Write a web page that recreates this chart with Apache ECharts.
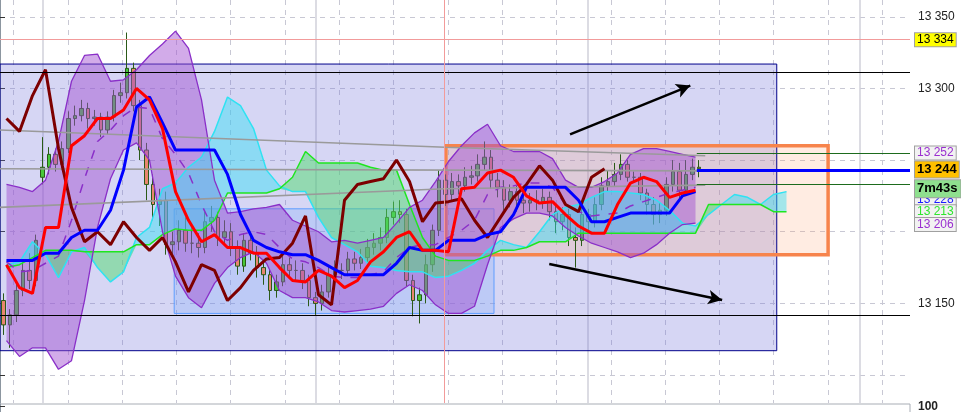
<!DOCTYPE html>
<html><head><meta charset="utf-8">
<script src="https://cdn.jsdelivr.net/npm/echarts@6/dist/echarts.min.js"></script>
<style>html,body{margin:0;padding:0;background:#fff}#c{width:961px;height:412px}</style>
</head><body><div id="c"></div>
<script>
// ---- candles (each slot = 2 bars) ----
const candleOpen = [13152,13135,13142,13159,13173,13166,13238,13245,13254,13247,
13258,13279,13281,13286,13279,13280,13271,13280,13295,13297,
13314,13288,13257,13233,13219,13222,13191,13193,13201,13192,
13192,13189,13207,13210,13196,13200,13189,13176,13194,13185,
13175,13170,13159,13165,13177,13173,13173,13166,13154,13150,
13158,13170,13173,13173,13181,13178,13182,13189,13192,13196,
13210,13214,13212,13166,13152,13156,13177,13201,13236,13226,
13235,13232,13238,13239,13247,13252,13236,13231,13222,13228,
13222,13220,13222,13221,13224,13214,13207,13212,13196,13194,
13212,13207,13219,13232,13235,13240,13247,13238,13238,13227,
13219,13212,13215,13233,13242,13229,13240,13245];
const candleClose = [13135,13142,13159,13173,13166,13194,13245,13254,13247,13258,
13279,13281,13286,13279,13280,13271,13280,13295,13297,13314,
13288,13257,13233,13219,13222,13191,13193,13201,13192,13192,
13189,13207,13210,13196,13200,13189,13176,13194,13185,13175,
13170,13159,13165,13177,13173,13173,13166,13154,13150,13158,
13170,13173,13173,13181,13178,13182,13189,13192,13196,13210,
13214,13212,13166,13152,13156,13177,13201,13236,13226,13235,
13232,13238,13239,13247,13252,13236,13231,13222,13228,13222,
13220,13222,13221,13224,13214,13207,13212,13196,13194,13212,
13207,13219,13232,13235,13240,13247,13238,13238,13227,13219,
13212,13215,13233,13242,13229,13240,13245,13244];
const candleHigh = [13157,13146,13165,13180,13185,13198,13266,13259,13258,13263,
13284,13288,13292,13290,13285,13283,13284,13299,13304,13339,
13318,13292,13262,13240,13230,13228,13200,13208,13210,13203,
13199,13214,13218,13214,13208,13206,13194,13199,13200,13190,
13180,13174,13170,13183,13182,13180,13178,13170,13158,13163,
13176,13180,13178,13186,13186,13188,13195,13199,13203,13216,
13221,13222,13216,13170,13161,13184,13205,13243,13240,13241,
13240,13245,13246,13254,13263,13257,13241,13236,13233,13232,
13228,13227,13229,13230,13228,13218,13217,13216,13203,13218,
13216,13224,13238,13243,13248,13254,13250,13242,13241,13230,
13224,13220,13238,13250,13248,13250,13251,13250];
const candleLow = [13128,13119,13137,13155,13160,13162,13233,13240,13242,13243,
13255,13274,13277,13272,13274,13266,13268,13277,13290,13293,
13284,13250,13222,13208,13204,13184,13182,13187,13186,13185,
13182,13185,13200,13190,13190,13183,13170,13172,13180,13168,
13163,13152,13154,13162,13168,13166,13160,13148,13142,13145,
13154,13166,13167,13169,13173,13174,13178,13184,13187,13192,
13205,13206,13162,13141,13136,13150,13172,13197,13218,13221,
13226,13228,13233,13235,13243,13230,13224,13215,13217,13214,
13213,13214,13215,13216,13208,13199,13201,13190,13175,13190,
13201,13203,13215,13228,13232,13236,13235,13235,13222,13212,
13205,13206,13211,13228,13222,13225,13236,13238];

// ---- indicator lines (each slot = 4 bars) ----
const tenkan = [13177,13161,13157,13203,13203,13260,13267,13279,13279,13285,
13300,13292,13272,13228,13208,13193,13198,13189,13189,13185,
13185,13175,13166,13165,13173,13169,13161,13166,13179,13186,
13196,13200,13187,13187,13186,13230,13231,13241,13243,13238,
13225,13220,13221,13212,13204,13199,13199,13219,13234,13238,
13235,13224,13227,13229];
const kijun = [13180,13180,13180,13185,13185,13196,13201,13201,13215,13243,
13287,13294,13276,13257,13257,13257,13257,13240,13212,13194,
13189,13186,13184,13184,13180,13175,13170,13170,13170,13170,
13178,13189,13187,13187,13194,13194,13194,13198,13200,13212,
13231,13231,13231,13231,13222,13207,13207,13210,13213,13213,
13213,13213,13225,13228];
const chikou = [13279,13270,13295,13313,13258,13217,13193,13200,13191,13207,
13196,13187,13196,13179,13158,13177,13173,13152,13161,13173,
13181,13182,13192,13211,13156,13149,13222,13233,13235,13237,
13250,13235,13207,13220,13221,13223,13208,13196,13210,13224,
13233,13246,13236,13219,13214,13238,13244];
const senkouA = [13177,13179,13193,13184,13168,13186,13189,13175,13165,13172,
13196,13203,13230,13234,13245,13252,13270,13294,13288,13272,
13243,13232,13228,13228,13210,13196,13191,13186,13176,13175,
13173,13172,13172,13168,13169,13173,13178,13187,13194,13191,
13189,13200,13212,13217,13219,13224,13228,13228,13227,13226,
13222,13215,13206,13204,13212,13219,13226,13224,13219,13226,
13228];
const senkouB = [13175,13177,13182,13187,13187,13187,13186,13186,13186,13186,
13191,13191,13198,13202,13201,13201,13208,13227,13227,13227,
13227,13230,13238,13256,13248,13248,13248,13248,13245,13243,
13243,13219,13196,13183,13180,13180,13180,13183,13187,13187,
13189,13193,13193,13193,13199,13199,13199,13199,13199,13199,
13199,13199,13199,13199,13219,13219,13219,13219,13219,13214,
13214];
const bbUpper = [13233,13231,13228,13236,13263,13305,13323,13324,13305,13306,
13313,13323,13331,13340,13328,13292,13236,13213,13214,13216,
13217,13219,13208,13204,13200,13193,13194,13192,13194,13196,
13206,13217,13222,13235,13249,13260,13269,13275,13260,13256,
13256,13256,13251,13236,13231,13231,13235,13241,13254,13258,
13258,13256,13254,13252];
const bbLower = [13124,13113,13119,13119,13104,13110,13152,13203,13237,13257,
13262,13250,13200,13169,13154,13147,13164,13175,13182,13186,
13178,13159,13154,13154,13151,13145,13144,13145,13146,13148,
13157,13163,13159,13149,13143,13143,13148,13177,13203,13209,
13213,13213,13211,13203,13197,13192,13189,13186,13182,13185,
13191,13199,13205,13206];
const bbMid = [13179,13172,13173,13178,13183,13208,13237,13263,13271,13281,
13287,13286,13265,13254,13241,13219,13200,13194,13198,13200,
13198,13189,13181,13179,13175,13169,13168,13168,13170,13172,
13182,13189,13191,13191,13196,13201,13208,13226,13231,13232,
13234,13234,13231,13219,13214,13211,13212,13213,13218,13221,
13224,13227,13229,13231];

// ---- drawn annotations, in [time (slot units), price] ----
const trendTop = [[0,13271],[68.5,13259],[108.5,13253]];
const trendMid = [[0,13244],[108.5,13242.5]];
const trendBot = [[0,13217],[68.5,13230],[108.5,13232.5]];
const boxNavy = [[0,13317],[119.5,13117]];
const boxBlue = [[26.8,13216],[76,13143]];
const boxOrange = [[68.6,13260],[127.4,13184]];
const arrowUp = [[87.7,13268],[106.2,13302]];
const arrowDown = [[84.5,13177.5],[111.1,13152.4]];
const levelBlack = [13311, 13142];
const levelRed = 13334;
const sessionLine = 68.4;
const rightLevels = {greenHi:13255, greenLo:13233, price:13243};
const rightFrom = 107.2;

// ---- axis ----
const yLabelsShown = [13150, 13300, 13350];
const tagTexts = ['13 334','13 252','13 244','13 228','7m43s','13 213','13 206'];
const tagValues = [13334,13255,13243.5,13222.5,13230,13214,13205];

const FONT = 'Liberation Sans, Arial, sans-serif';
const fmt = v => String(Math.round(v)).replace(/\B(?=(\d{3})+(?!\d))/g, ' ');
const candleCats = Array.from({length:140}, (_, i) => 'b' + i);
const lineCats = Array.from({length:70}, (_, i) => 'l' + i);

const bbWidth = bbUpper.map((u, i) => u - bbLower[i]);
const cloudBase = senkouA.map((a, i) => Math.min(a, senkouB[i]));
const cloudUp = senkouA.map((a, i) => Math.max(a - senkouB[i], 0));
const cloudDn = senkouA.map((a, i) => Math.max(senkouB[i] - a, 0));

const tagStyles = [
  {backgroundColor:'#ffff00', color:'#000'},
  {backgroundColor:'#f2f2f2', color:'#9a2fd0'},
  {backgroundColor:'#ffc000', color:'#000', fontWeight:'bold', fontSize:13, padding:[2,2,1,2]},
  {backgroundColor:'#f2f2f2', color:'#1a1aff'},
  {backgroundColor:'#8fe08f', color:'#000', fontWeight:'bold', fontSize:13, padding:[2,3,2,2]},
  {backgroundColor:'#f2f2f2', color:'#2ee62e'},
  {backgroundColor:'#f2f2f2', color:'#9a2fd0'}
];

const hidden = {symbol:'none', lineStyle:{opacity:0}, silent:true};
const lineS = (data, color, width, extra) => Object.assign({
  type:'line', xAxisIndex:1, yAxisIndex:0, data, symbol:'none', silent:true,
  lineStyle:{color, width}
}, extra || {});

const tagItems = tagTexts.map((t, i) => ({
  yAxis: tagValues[i],
  lineStyle: {color:'rgba(0,0,0,0)', width:0, opacity:1},
  label: Object.assign({
    show:true, position:'end', distance:5, formatter: t, opacity:1,
    fontFamily: FONT, fontSize: 12, borderColor:'#a0a0a0', borderWidth:1,
    padding:[1,2,0,2]
  }, tagStyles[i])
}));

const option = {
  animation: false,
  backgroundColor: '#fff',
  grid: [
    {left:0, top:0, width:910, height:403},
    {left:0, top:404, width:910, height:60, show:true, backgroundColor:'#fff', borderColor:'#a8adb5', borderWidth:1}
  ],
  xAxis: [
    {type:'category', gridIndex:0, data:candleCats, show:false},
    {type:'category', gridIndex:0, data:lineCats, show:false},
    {type:'value', gridIndex:0, min:0, max:140, show:false},
    {type:'value', gridIndex:0, min:-0.2486, max:16.51, splitNumber:16,
      axisLine:{show:false}, axisTick:{show:false}, axisLabel:{show:false},
      splitLine:{show:true, showMinLine:false, showMaxLine:false, lineStyle:{color:'#c8c8d4', type:[5,5], width:1}}},
    {type:'value', gridIndex:0, min:-0.1579, max:3.184, splitNumber:3,
      axisLine:{show:false}, axisTick:{show:false}, axisLabel:{show:false},
      splitLine:{show:true, showMinLine:false, showMaxLine:false, lineStyle:{color:'#d0d0da', width:1.5}}},
    {type:'value', gridIndex:1, min:0, max:1, show:false}
  ],
  yAxis: [
    {type:'value', gridIndex:0, position:'right', min:13080.5, max:13361.7, splitNumber:5,
      axisLine:{show:true, lineStyle:{color:'#8c96a0', width:1}},
      axisTick:{show:true, length:5, lineStyle:{color:'#333'}},
      axisLabel:{margin:8, color:'#222', fontSize:12, fontFamily:FONT, showMinLabel:false, showMaxLabel:false,
        formatter: v => yLabelsShown.includes(Math.round(v)) ? fmt(v) : ''},
      splitLine:{show:true, showMinLine:false, showMaxLine:false, lineStyle:{color:'#c8c8d4', type:[5,5]}}},
    {type:'value', gridIndex:1, position:'right', min:0, max:120, interval:50,
      axisLine:{show:true, lineStyle:{color:'#8c96a0'}},
      axisTick:{show:true, length:5, lineStyle:{color:'#333'}},
      axisLabel:{margin:8, color:'#222', fontSize:12, fontFamily:FONT, fontWeight:'bold', showMaxLabel:false,
        formatter: v => v === 100 ? '100' : ''},
      splitLine:{show:false}}
  ],
  series: [
    Object.assign({type:'line', xAxisIndex:2, yAxisIndex:0, data:[[0,13200]],
      markArea:{silent:true, data:[[{coord:boxNavy[0], itemStyle:{color:'rgba(120,120,220,0.30)'}}, {coord:boxNavy[1]}]]}}, hidden),
    Object.assign({type:'line', xAxisIndex:1, data:bbLower, stack:'bb'}, hidden),
    {type:'line', xAxisIndex:1, data:bbWidth, stack:'bb', symbol:'none', silent:true,
      lineStyle:{opacity:0}, areaStyle:{color:'rgba(160,80,210,0.48)', opacity:1}},
    Object.assign({type:'line', xAxisIndex:1, data:cloudBase, stack:'cc'}, hidden),
    {type:'line', xAxisIndex:1, data:cloudUp, stack:'cc', symbol:'none', silent:true,
      lineStyle:{opacity:0}, areaStyle:{color:'rgba(50,225,245,0.45)', opacity:1}},
    Object.assign({type:'line', xAxisIndex:1, data:cloudBase, stack:'cg'}, hidden),
    {type:'line', xAxisIndex:1, data:cloudDn, stack:'cg', symbol:'none', silent:true,
      lineStyle:{opacity:0}, areaStyle:{color:'rgba(80,220,110,0.5)', opacity:1}},
    Object.assign({type:'line', xAxisIndex:2, yAxisIndex:0, data:[[0,13200]],
      markArea:{silent:true, data:[
        [{coord:boxBlue[0], itemStyle:{color:'rgba(100,160,255,0.22)', borderColor:'#5f9dff', borderWidth:1}}, {coord:boxBlue[1]}],
        [{coord:boxOrange[0], itemStyle:{color:'rgba(255,160,110,0.2)'}}, {coord:boxOrange[1]}]
      ]}}, hidden),
    {type:'candlestick', xAxisIndex:0, yAxisIndex:0, barWidth:4, silent:true,
      data: candleOpen.map((o, i) => [o, candleClose[i], candleLow[i], candleHigh[i]]),
      itemStyle:{color:'#48c83a', color0:'#e8866e', borderColor:'#2a5a18', borderColor0:'#2a5a18', borderWidth:1}},
    lineS(senkouA, '#2fe2f2', 1.5),
    lineS(senkouB, '#1fe61f', 1.5),
    lineS(bbUpper, '#8a2fc8', 1.3),
    lineS(bbLower, '#8a2fc8', 1.3),
    lineS(bbMid, '#8a2fc8', 1.5, {lineStyle:{color:'#8a2fc8', width:1.5, type:[9,9]}}),
    {type:'line', xAxisIndex:2, yAxisIndex:0, data:trendTop, symbol:'none', silent:true, lineStyle:{color:'#9a9a9a', width:1.6}},
    {type:'line', xAxisIndex:2, yAxisIndex:0, data:trendMid, symbol:'none', silent:true, lineStyle:{color:'#9a9a9a', width:1.6}},
    {type:'line', xAxisIndex:2, yAxisIndex:0, data:trendBot, symbol:'none', silent:true, lineStyle:{color:'#9a9a9a', width:1.6}},
    lineS(chikou, '#7d0000', 3),
    lineS(kijun, '#0000ff', 3),
    lineS(tenkan, '#ff0000', 3),
    Object.assign({type:'line', xAxisIndex:2, yAxisIndex:0, data:[[0,13200]], clip:false,
      markArea:{silent:true, data:[
        [{coord:boxNavy[0], itemStyle:{color:'rgba(0,0,0,0)', borderColor:'#00008b', borderWidth:1}}, {coord:boxNavy[1]}],
        [{coord:boxOrange[0], itemStyle:{color:'rgba(0,0,0,0)', borderColor:'#f7844c', borderWidth:3.5}}, {coord:boxOrange[1]}]
      ]},
      markLine:{silent:true, symbol:['none','none'], label:{show:false}, emphasis:{disabled:true},
        data:[
          {yAxis:levelBlack[0], lineStyle:{color:'#000', width:1, type:'solid'}},
          {yAxis:levelBlack[1], lineStyle:{color:'#000', width:1, type:'solid'}},
          {yAxis:levelRed, lineStyle:{color:'#f29b9b', width:1, type:'solid'}},
          {xAxis:sessionLine, lineStyle:{color:'#f29b9b', width:1, type:'solid'}},
          [{coord:[rightFrom, rightLevels.greenHi], lineStyle:{color:'#1d6b1d', width:1.2, type:'solid'}}, {coord:[140, rightLevels.greenHi]}],
          [{coord:[rightFrom, rightLevels.greenLo], lineStyle:{color:'#1d6b1d', width:1.2, type:'solid'}}, {coord:[140, rightLevels.greenLo]}],
          [{coord:[rightFrom, rightLevels.price], lineStyle:{color:'#0000ff', width:3, type:'solid'}}, {coord:[140, rightLevels.price]}],
          [{coord:arrowUp[0], symbol:'none', lineStyle:{color:'#000', width:2.5, type:'solid'}}, {coord:arrowUp[1], symbol:'arrow', symbolSize:[11,14]}],
          [{coord:arrowDown[0], symbol:'none', lineStyle:{color:'#000', width:2.5, type:'solid'}}, {coord:arrowDown[1], symbol:'arrow', symbolSize:[11,14]}]
        ]}}, hidden),
    {type:'line', xAxisIndex:2, yAxisIndex:0, data:[[0,13200]], z:10, clip:false,
      symbol:'none', silent:true, lineStyle:{width:0, color:'rgba(0,0,0,0)'},
      markLine:{silent:true, symbol:['none','none'], emphasis:{disabled:true}, data: tagItems}}
  ]
};
const chart = echarts.init(document.getElementById('c'));
chart.setOption(option);
</script></body></html>
